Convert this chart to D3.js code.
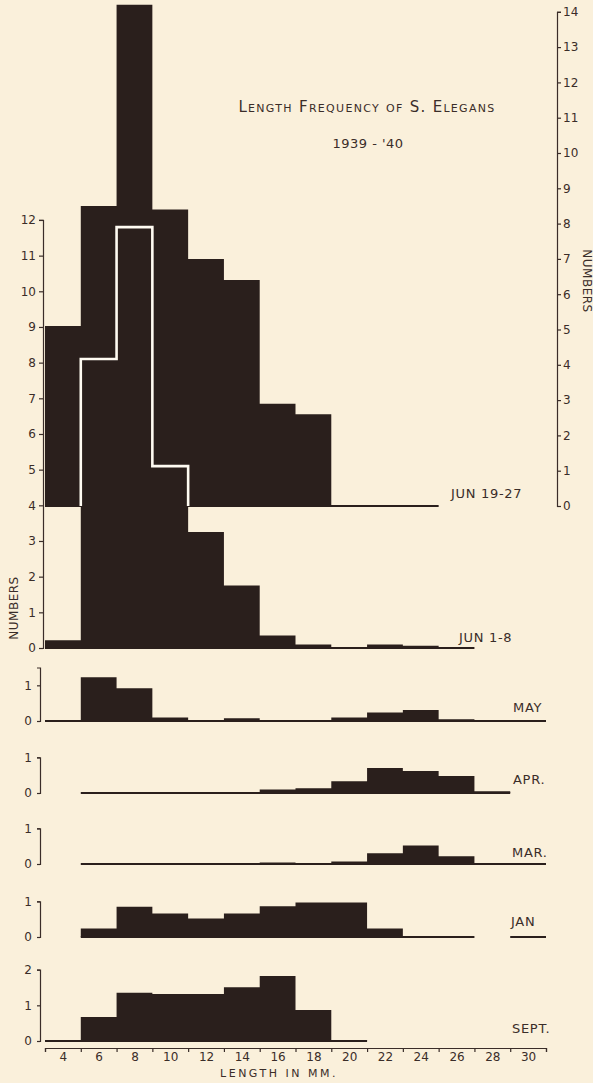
<!DOCTYPE html>
<html>
<head>
<meta charset="utf-8">
<script src="https://cdn.jsdelivr.net/npm/d3@7"></script>
<style>
body { margin: 0; background: #faf0db; }
svg { display: block; }
text { font-family: "DejaVu Sans", sans-serif; fill: #3a2d29; }
.axis path, .axis line { stroke: #3a2d29; stroke-width: 1.2; fill: none; }
.axis text { font-size: 12px; font-family: "DejaVu Sans", sans-serif; fill: #3a2d29; }
.lbl { font-size: 13px; letter-spacing: 0.7px; }
</style>
</head>
<body>
<svg width="593" height="1083"></svg>
<script>
// bin centres in mm (each bin is 2 mm wide)
var bins = [4, 6, 8, 10, 12, 14, 16, 18, 20, 22, 24, 26, 28, 30];
var lengthTicks = [4, 6, 8, 10, 12, 14, 16, 18, 20, 22, 24, 26, 28, 30];
var binEdges = [3, 5, 7, 9, 11, 13, 15, 17, 19, 21, 23, 25, 27, 29, 31];

// numbers per bin, null = not sampled
var jun1927 = [5.1, 8.5, 14.2, 8.4, 7.0, 6.4, 2.9, 2.6, 0, 0, 0, null, null, null];
var jun18   = [0.22, 8.1, 11.8, 5.1, 3.25, 1.75, 0.35, 0.1, 0.02, 0.1, 0.06, 0, null, null];
var may     = [0, 1.23, 0.92, 0.1, 0.03, 0.08, 0, 0.02, 0.1, 0.24, 0.31, 0.05, 0, 0];
var apr     = [null, 0, 0.03, 0, 0, 0.03, 0.1, 0.13, 0.33, 0.7, 0.62, 0.48, 0.05, null];
var mar     = [null, 0, 0, 0, 0, 0, 0.04, 0.03, 0.07, 0.3, 0.52, 0.22, 0.03, 0];
var jan     = [null, 0.24, 0.85, 0.66, 0.52, 0.66, 0.86, 0.97, 0.97, 0.24, 0.03, 0, null, 0];
var sept    = [0.02, 0.67, 1.35, 1.32, 1.32, 1.51, 1.82, 0.87, 0.02, null, null, null, null, null];

var title = "Length Frequency of S. Elegans";
var subtitle = "1939 - '40";
var xAxisLabel = "LENGTH IN MM.";
var yAxisLabel = "NUMBERS";

var ink = "#2a1f1c";
var svg = d3.select("svg");
var width = +svg.attr("width");
var height = +svg.attr("height");
var unit = 35.67;

var xScale = d3.scaleLinear().domain([3, 31]).range([45, 546]);

function makeY(base, top, u) {
  return d3.scaleLinear().domain([0, top]).range([base, base - top * (u || unit)]);
}

function stepPoints(vals) {
  var pts = [];
  vals.forEach(function (v, i) {
    if (v == null) { pts.push(null); return; }
    pts.push([bins[i] - 1, v], [bins[i] + 1, v]);
  });
  return pts;
}

var panels = [
  { name: "JUN 19-27", values: jun1927, y: makeY(506, 14, 35.3), lx: 451, ly: 498 },
  { name: "JUN 1-8",   values: jun18,   y: makeY(648, 12),       lx: 459, ly: 642 },
  { name: "MAY",       values: may,     y: makeY(721, 1.5),      lx: 513, ly: 712, ticks: [0, 1] },
  { name: "APR.",      values: apr,     y: makeY(793, 1),        lx: 513, ly: 784, ticks: [0, 1] },
  { name: "MAR.",      values: mar,     y: makeY(864, 1),        lx: 512, ly: 857, ticks: [0, 1] },
  { name: "JAN",       values: jan,     y: makeY(937, 1),        lx: 511, ly: 926, ticks: [0, 1] },
  { name: "SEPT.",     values: sept,    y: makeY(1041, 2),       lx: 512, ly: 1033, ticks: [0, 1, 2] }
];

var defs = svg.append("defs");
var g = svg.append("g");

panels.forEach(function (p) {
  var pts = stepPoints(p.values);
  var area = d3.area()
    .defined(function (d) { return d != null; })
    .x(function (d) { return xScale(d[0]); })
    .y0(p.y(0))
    .y1(function (d) { return p.y(d[1]); });
  var base = d3.line()
    .defined(function (d) { return d != null; })
    .x(function (d) { return xScale(d[0]); })
    .y(p.y(0));
  p.areaPath = area(pts);
  g.append("path").attr("d", p.areaPath).attr("fill", ink);
  g.append("path").attr("d", base(pts)).attr("stroke", ink).attr("stroke-width", 2.2).attr("fill", "none");
  g.append("text").attr("class", "lbl").attr("x", p.lx).attr("y", p.ly).text(p.name);
});

// white outline of JUN 1-8 where it lies over JUN 19-27
defs.append("clipPath").attr("id", "jun-clip").append("path").attr("d", panels[0].areaPath);
var p1 = panels[1];
var outline = d3.line()
  .defined(function (d) { return d != null; })
  .x(function (d) { return xScale(d[0]); })
  .y(function (d) { return p1.y(d[1]); });
g.append("path").attr("d", outline(stepPoints(jun18)))
  .attr("clip-path", "url(#jun-clip)")
  .attr("stroke", "#fffbf2").attr("stroke-width", 2.6).attr("fill", "none");

// axes
var rightAxis = d3.axisRight(panels[0].y).tickValues(d3.range(0, 15)).tickSize(4).tickPadding(2).tickFormat(d3.format("d"));
svg.append("g").attr("class", "axis").attr("transform", "translate(557,0)").call(rightAxis);

var leftAxis = d3.axisLeft(panels[1].y).tickValues(d3.range(0, 13)).tickSize(4).tickPadding(3).tickFormat(d3.format("d"));
svg.append("g").attr("class", "axis").attr("transform", "translate(43,0)").call(leftAxis);

panels.slice(2).forEach(function (p) {
  var ax = d3.axisLeft(p.y).tickValues(p.ticks).tickSize(3).tickSizeOuter(3).tickPadding(5).tickFormat(d3.format("d"));
  svg.append("g").attr("class", "axis").attr("transform", "translate(40,0)").call(ax);
});

var xAxis = d3.axisBottom(xScale).tickValues(binEdges).tickSize(4).tickSizeOuter(4).tickFormat("");
svg.append("g").attr("class", "axis").attr("transform", "translate(0,1048)").call(xAxis);
var xLabels = d3.axisBottom(xScale).tickValues(lengthTicks).tickSize(0).tickPadding(4).tickFormat(d3.format("d"));
var xl = svg.append("g").attr("class", "axis").attr("transform", "translate(0,1048)").call(xLabels);
xl.select(".domain").remove();

// titles
svg.append("text").attr("x", 367).attr("y", 112).attr("text-anchor", "middle")
  .style("font-variant", "small-caps").style("font-size", "15px").style("letter-spacing", "1.3px").text(title);
svg.append("text").attr("x", 368).attr("y", 148).attr("text-anchor", "middle")
  .style("font-size", "13px").style("letter-spacing", "0.5px").text(subtitle);
svg.append("text").attr("x", 279).attr("y", 1077).attr("text-anchor", "middle")
  .style("font-size", "11px").style("letter-spacing", "2.5px").text(xAxisLabel);
svg.append("text").attr("transform", "translate(18,608) rotate(-90)").attr("text-anchor", "middle")
  .style("font-size", "12px").style("letter-spacing", "0.5px").text(yAxisLabel);
svg.append("text").attr("transform", "translate(583,281) rotate(90)").attr("text-anchor", "middle")
  .style("font-size", "12px").style("letter-spacing", "0.5px").text(yAxisLabel);
</script>
</body>
</html>
